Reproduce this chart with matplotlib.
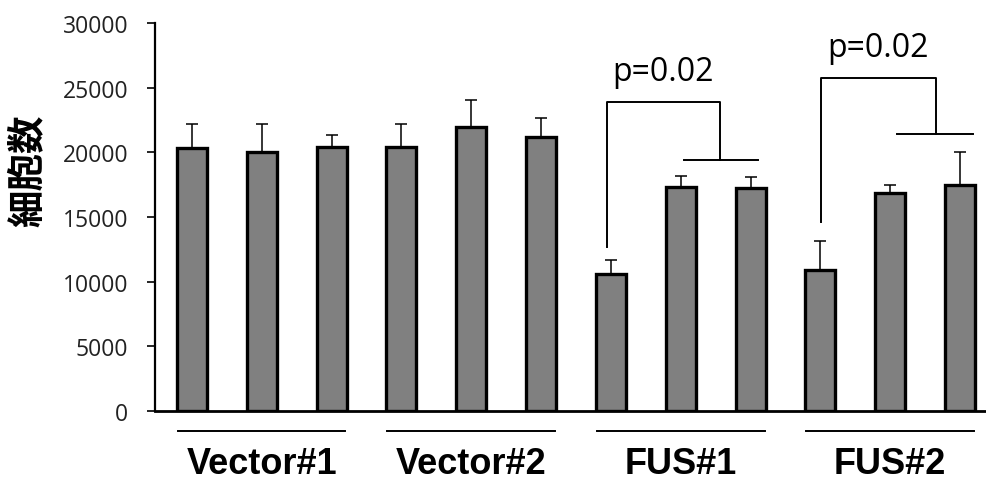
import matplotlib.pyplot as plt
import numpy as np

# 細胞数 (mean and upper error) for 3 replicates per group
groups = ["Vector#1", "Vector#2", "FUS#1", "FUS#2"]
means = [20300, 20050, 20390, 20390, 21960, 21160,
         10590, 17320, 17220, 10880, 16830, 17450]
errs = [1860, 2120, 980, 1780, 2090, 1470,
        1060, 870, 850, 2270, 640, 2600]
p_text = ["p=0.02", "p=0.02"]

fig = plt.figure(figsize=(9.86, 4.81), dpi=100)
ax = fig.add_axes([0.157, 0.1435, 0.843, 0.8065])

x = np.arange(len(means))
ax.bar(x, means, width=0.43, color="#808080", edgecolor="black", linewidth=2.4, zorder=2)
ax.errorbar(x, means, yerr=[np.zeros(len(errs)), errs], fmt="none",
            ecolor="black", elinewidth=1.1, capsize=4.3, capthick=1.1, zorder=1)

ax.set_xlim(-0.53, 11.37)
ax.set_ylim(0, 30000)
ax.set_yticks(np.arange(0, 30001, 5000))
ax.set_xticks([])
for s in ["top", "right"]:
    ax.spines[s].set_visible(False)
ax.spines["left"].set_linewidth(1.6)
ax.spines["bottom"].set_linewidth(2.0)
ax.tick_params(axis="y", length=6, width=1.2, pad=13, labelsize=16.5, labelcolor="#222222")
for lab in ax.get_yticklabels():
    lab.set_family(["Open Sans", "DejaVu Sans"])

fig.text(27 / 986, 1 - 171 / 481, "細胞数", rotation=90, ha="center", va="center",
         fontsize=27, fontweight="bold", family=["Noto Sans CJK JP", "DejaVu Sans"])

# significance brackets
kw = dict(color="black", lw=1.4, clip_on=False)
# FUS#1
ax.plot([5.95, 5.95, 7.56, 7.56], [12680, 23890, 23890, 19430], **kw)
ax.plot([7.04, 8.11], [19430, 19430], **kw)
ax.text(6.75, 26250, p_text[0], ha="center", va="center", fontsize=23,
        family=["Open Sans", "DejaVu Sans"])
# FUS#2
ax.plot([9.01, 9.01, 10.66, 10.66], [14610, 25750, 25750, 21420], **kw)
ax.plot([10.1, 11.19], [21420, 21420], **kw)
ax.text(9.82, 28100, p_text[1], ha="center", va="center", fontsize=23,
        family=["Open Sans", "DejaVu Sans"])

# group underlines and labels
for i, g in enumerate(groups):
    c = 3 * i + 1
    ax.plot([c - 1.2, c + 1.2], [-1550, -1550], color="black", lw=1.4, clip_on=False)
    ax.text(c, -4100, g, ha="center", va="center", fontsize=26, fontweight="bold",
            family=["Liberation Sans", "DejaVu Sans"])

fig.savefig("out.png", dpi=100)
